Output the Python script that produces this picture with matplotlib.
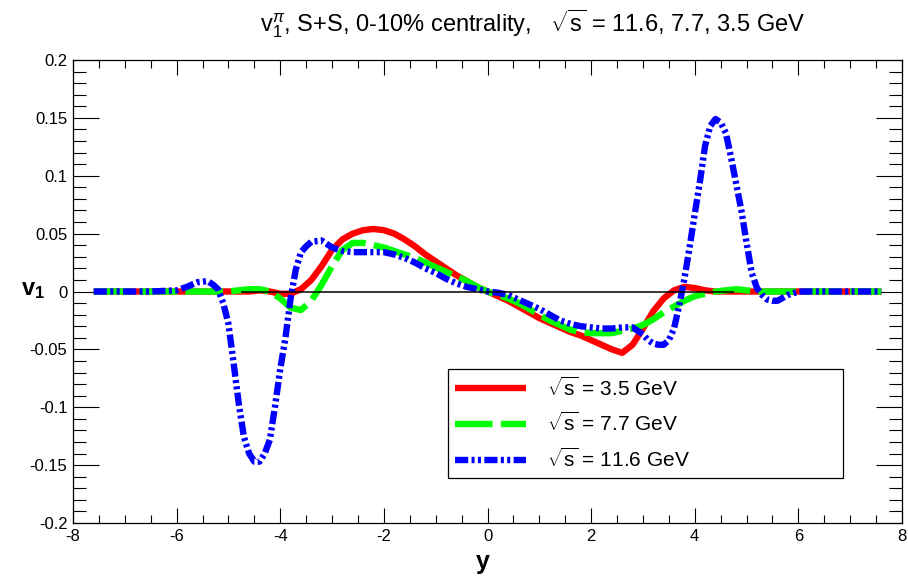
import numpy as np
import matplotlib
matplotlib.use('Agg')
import matplotlib.pyplot as plt
from matplotlib.lines import Line2D
from matplotlib.ticker import MultipleLocator, FormatStrFormatter

plt.rcParams['font.family'] = ['Liberation Sans', 'DejaVu Sans']
plt.rcParams['mathtext.fontset'] = 'custom'
plt.rcParams['mathtext.rm'] = 'Liberation Sans'
plt.rcParams['mathtext.it'] = 'Liberation Sans:italic'
plt.rcParams['mathtext.bf'] = 'Liberation Sans:bold'
plt.rcParams['lines.scale_dashes'] = False

# rapidity grid for the 3.5 and 7.7 GeV curves
rap = [-7.6, -6.0, -5.0, -4.8, -4.6, -4.4, -4.2, -4.0, -3.8, -3.6, -3.4, -3.2,
       -3.0, -2.8, -2.6, -2.4, -2.2, -2.0, -1.8, -1.6, -1.4, -1.2, -1.0, -0.8,
       -0.6, -0.4, -0.2, 0.0, 0.2, 0.4, 0.6, 0.8, 1.0, 1.2, 1.4, 1.6, 1.8, 2.0,
       2.2, 2.4, 2.6, 2.8, 3.0, 3.2, 3.4, 3.6, 3.8, 4.0, 4.2, 4.4, 4.6, 4.8,
       5.0, 5.2, 6.0, 7.6]

v1_35 = [0, 0, 0, 0, 0, 0.001, 0.000, -0.002, -0.002, 0.002, 0.010, 0.022,
         0.036, 0.045, 0.050, 0.053, 0.054, 0.053, 0.050, 0.045, 0.039, 0.032,
         0.026, 0.020, 0.014, 0.009, 0.004, 0.000, -0.004, -0.008, -0.013,
         -0.018, -0.023, -0.027, -0.031, -0.035, -0.038, -0.042, -0.046,
         -0.050, -0.053, -0.046, -0.032, -0.017, -0.006, 0.001, 0.004, 0.003,
         0.001, 0.000, 0, 0, 0, 0, 0, 0]

v1_77 = [0, 0, 0, 0.001, 0.002, 0.002, 0.000, -0.006, -0.014, -0.016, -0.008,
         0.006, 0.022, 0.036, 0.042, 0.042, 0.040, 0.038, 0.035, 0.032, 0.029,
         0.025, 0.021, 0.017, 0.013, 0.009, 0.004, 0.000, -0.003, -0.006,
         -0.010, -0.015, -0.020, -0.025, -0.029, -0.033, -0.035, -0.036,
         -0.036, -0.036, -0.034, -0.032, -0.029, -0.024, -0.018, -0.013,
         -0.008, -0.004, -0.002, 0.000, 0.001, 0.002, 0.001, 0.000, 0, 0]

# 11.6 GeV has sharper structure, finer grid
rap_116 = [-7.6, -6.5, -6.0, -5.8, -5.6, -5.4, -5.3, -5.2, -5.1, -5.0, -4.9,
           -4.8, -4.7, -4.6, -4.5, -4.4, -4.3, -4.2, -4.1, -4.0, -3.9, -3.8,
           -3.7, -3.6, -3.5, -3.4, -3.2, -3.0, -2.8, -2.6, -2.4, -2.2, -2.0,
           -1.8, -1.6, -1.4, -1.2, -1.0, -0.8, -0.6, -0.4, -0.2, 0.0, 0.2, 0.4,
           0.6, 0.8, 1.0, 1.2, 1.4, 1.6, 1.8, 2.0, 2.2, 2.4, 2.6, 2.8, 3.0, 3.1,
           3.2, 3.3, 3.4, 3.5, 3.6, 3.7, 3.8, 3.9, 4.0, 4.1, 4.2, 4.3, 4.4, 4.5,
           4.6, 4.7, 4.8, 4.9, 5.0, 5.1, 5.2, 5.3, 5.4, 5.5, 5.6, 5.8, 6.0, 6.5,
           7.6]

v1_116 = [0, 0, 0.001, 0.004, 0.008, 0.009, 0.006, 0.002, -0.010, -0.028,
          -0.062, -0.097, -0.126, -0.140, -0.147, -0.147, -0.140, -0.128,
          -0.099, -0.067, -0.040, -0.006, 0.019, 0.034, 0.039, 0.043, 0.044,
          0.038, 0.035, 0.034, 0.034, 0.034, 0.034, 0.032, 0.029, 0.025,
          0.020, 0.016, 0.011, 0.007, 0.004, 0.002, 0.000, -0.001, -0.003,
          -0.007, -0.011, -0.015, -0.020, -0.025, -0.028, -0.030, -0.031,
          -0.032, -0.032, -0.031, -0.031, -0.037, -0.042, -0.045, -0.046,
          -0.046, -0.042, -0.032, -0.012, 0.011, 0.038, 0.067, 0.095, 0.126,
          0.143, 0.149, 0.146, 0.137, 0.116, 0.093, 0.070, 0.042, 0.016,
          0.003, -0.003, -0.007, -0.008, -0.008, -0.003, 0.000, 0, 0]

labels = [r'$\sqrt{\mathrm{s}}$ = 3.5 GeV', r'$\sqrt{\mathrm{s}}$ = 7.7 GeV',
          r'$\sqrt{\mathrm{s}}$ = 11.6 GeV']

fig = plt.figure(figsize=(9.08, 5.76), dpi=100)
ax = fig.add_axes([73/908, 1 - 523/576, 829/908, 463/576])

lw = 4.6
red_style = dict(color='#ff0000', lw=lw, solid_capstyle='butt')
green_style = dict(color='#00ff00', lw=lw, dashes=(27, 6), dash_capstyle='butt')
blue_style = dict(color='#0000ff', lw=lw,
                  dashes=(9.5, 2.4, 2.2, 2.4, 2.2, 2.4), dash_capstyle='butt')

ax.plot(rap, v1_35, **red_style)
ax.plot(rap, v1_77, **green_style)
ax.plot(rap_116, v1_116, **blue_style)
ax.hlines(0, -4.75, 4.75, color='black', lw=1.1, zorder=5)

ax.set_xlim(-8, 8)
ax.set_ylim(-0.2, 0.2)
ax.xaxis.set_major_locator(MultipleLocator(2))
ax.xaxis.set_minor_locator(MultipleLocator(0.5))
ax.yaxis.set_major_locator(MultipleLocator(0.05))
ax.yaxis.set_minor_locator(MultipleLocator(0.01))
ax.xaxis.set_major_formatter(FormatStrFormatter('%g'))
ax.yaxis.set_major_formatter(FormatStrFormatter('%g'))
ax.tick_params(which='both', direction='in', top=True, right=True,
               width=0.8, labelsize=12, pad=4)
ax.tick_params(axis='x', which='major', length=10.8)
ax.tick_params(axis='x', which='minor', length=5.5)
ax.tick_params(axis='y', which='major', length=18.7)
ax.tick_params(axis='y', which='minor', length=9.4)
for s in ax.spines.values():
    s.set_linewidth(0.9)

handles = [Line2D([], [], **red_style), Line2D([], [], **green_style),
           Line2D([], [], **blue_style)]
leg = ax.legend(handles, labels, loc='upper left', mode='expand',
                bbox_to_anchor=(0.452, 0.333, 0.477, 0.0),
                fontsize=15, handlelength=3.4, handletextpad=1.0,
                borderpad=0.35, labelspacing=0.6, borderaxespad=0,
                fancybox=False, framealpha=1, edgecolor='black')
leg.get_frame().set_linewidth(0.9)

fig.text(533/908, 1 - 24/576,
         r'$\mathrm{v}_{1}^{\pi}$, S+S, 0-10% centrality,   $\sqrt{\mathrm{s}}$ = 11.6, 7.7, 3.5 GeV',
         ha='center', va='center', fontsize=17)
fig.text(33/908, 1 - 290/576, r'$\mathbf{v}_{\mathbf{1}}$', ha='center', va='center',
         fontsize=17)
fig.text(483/908, 1 - 562/576, 'y', ha='center', va='center', fontsize=18,
         fontweight='bold')

fig.savefig('out.png', dpi=100)
